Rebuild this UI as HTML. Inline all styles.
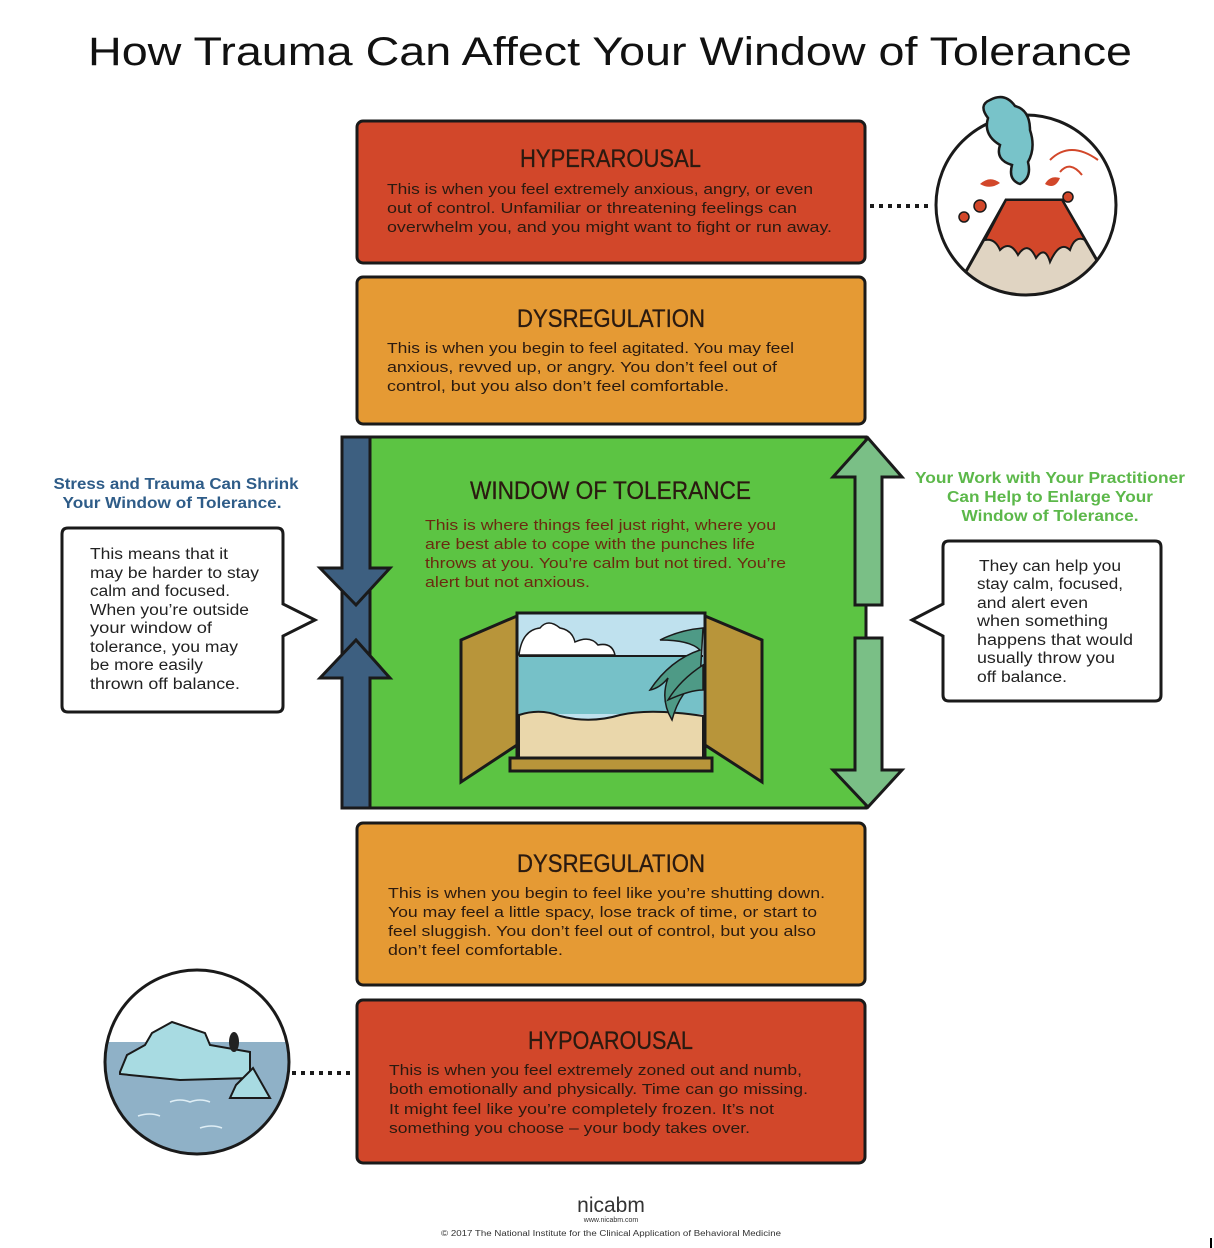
<!DOCTYPE html>
<html><head><meta charset="utf-8"><style>
html,body{margin:0;padding:0;background:#fff;}
svg{display:block;}
text{font-family:"Liberation Sans",sans-serif;}
.h{font-family:"Liberation Sans Narrow","Liberation Sans",sans-serif;font-size:25px;fill:#2a1a10;stroke:#2a1a10;stroke-width:0.3;}
.b{font-size:15px;fill:#2a1a10;}
.w{font-size:15px;fill:#6b2a10;}
.c{font-size:15.5px;fill:#222;}
</style></head><body>
<svg width="1214" height="1248" viewBox="0 0 1214 1248" xmlns="http://www.w3.org/2000/svg">
<text x="88" y="65" font-size="40" textLength="1044" lengthAdjust="spacingAndGlyphs" fill="#111" style="font-family:'Liberation Sans Narrow','Liberation Sans',sans-serif">How Trauma Can Affect Your Window of Tolerance</text>

<rect x="357" y="121" width="508" height="142" rx="6" fill="#d2472a" stroke="#1a1a1a" stroke-width="3"/>
<text class="h" x="520" y="167" textLength="181" lengthAdjust="spacingAndGlyphs">HYPERAROUSAL</text>
<text class="b" x="387" y="194" textLength="426" lengthAdjust="spacingAndGlyphs">This is when you feel extremely anxious, angry, or even</text>
<text class="b" x="387" y="213" textLength="410" lengthAdjust="spacingAndGlyphs">out of control. Unfamiliar or threatening feelings can</text>
<text class="b" x="387" y="232" textLength="445" lengthAdjust="spacingAndGlyphs">overwhelm you, and you might want to fight or run away.</text>

<rect x="357" y="277" width="508" height="147" rx="6" fill="#e59a34" stroke="#1a1a1a" stroke-width="3"/>
<text class="h" x="517" y="327" textLength="188" lengthAdjust="spacingAndGlyphs">DYSREGULATION</text>
<text class="b" x="387" y="353" textLength="407" lengthAdjust="spacingAndGlyphs">This is when you begin to feel agitated. You may feel</text>
<text class="b" x="387" y="372" textLength="390" lengthAdjust="spacingAndGlyphs">anxious, revved up, or angry.  You don’t feel out of</text>
<text class="b" x="387" y="391" textLength="342" lengthAdjust="spacingAndGlyphs">control, but you also don’t feel comfortable.</text>

<rect x="342" y="437" width="524" height="371" fill="#5cc443" stroke="#1a1a1a" stroke-width="3"/>
<rect x="342" y="437" width="28" height="371" fill="#3d5f80" stroke="#1a1a1a" stroke-width="3"/>
<text class="h" x="470" y="499" textLength="281" lengthAdjust="spacingAndGlyphs">WINDOW OF TOLERANCE</text>
<text class="w" x="425" y="530" textLength="351" lengthAdjust="spacingAndGlyphs">This is where things feel just right, where you</text>
<text class="w" x="425" y="549" textLength="330" lengthAdjust="spacingAndGlyphs">are best able to cope with the punches life</text>
<text class="w" x="425" y="568" textLength="361" lengthAdjust="spacingAndGlyphs">throws at you. You’re calm but not tired. You’re</text>
<text class="w" x="425" y="587" textLength="165" lengthAdjust="spacingAndGlyphs">alert but not anxious.</text>

<path d="M342 437 L370 437 L370 568 L390 568 L356 605 L320 568 L342 568 Z" fill="#3d5f80" stroke="#1a1a1a" stroke-width="3"/>
<path d="M342 808 L370 808 L370 678 L390 678 L356 640 L320 678 L342 678 Z" fill="#3d5f80" stroke="#1a1a1a" stroke-width="3"/>
<path d="M855 605 L882 605 L882 477 L902 477 L868 438 L833 477 L855 477 Z" fill="#7abf86" stroke="#1a1a1a" stroke-width="3"/>
<path d="M855 638 L882 638 L882 770 L902 770 L868 807 L833 770 L855 770 Z" fill="#7abf86" stroke="#1a1a1a" stroke-width="3"/>

<rect x="517" y="613" width="188" height="147" fill="#bfe1ee" stroke="#1a1a1a" stroke-width="3"/>
<path d="M519 655 Q522 630 540 628 Q548 618 560 628 Q572 630 575 642 Q590 635 598 645 Q612 642 615 655 Z" fill="#fff" stroke="#1a1a1a" stroke-width="1.5"/>
<rect x="519" y="656" width="184" height="58" fill="#76c1c8"/>
<line x1="519" y1="656" x2="703" y2="656" stroke="#1a1a1a" stroke-width="2"/>
<path d="M519 715 Q540 708 560 716 Q590 724 620 715 Q650 708 703 716 L703 758 L519 758 Z" fill="#ead7ab" stroke="#1a1a1a" stroke-width="2"/>
<path d="M703 628 Q680 630 660 640 Q690 640 700 650 Q670 660 650 690 Q660 688 668 678 Q660 700 672 720 Q680 690 700 680 Z" fill="#4e9a86" stroke="#1a1a1a" stroke-width="1.5"/>
<path d="M703 665 Q680 680 668 700 Q690 690 703 690 Z" fill="#4e9a86" stroke="#1a1a1a" stroke-width="1.5"/>
<path d="M461 640 L517 616 L517 745 L461 782 Z" fill="#b8953a" stroke="#1a1a1a" stroke-width="3"/>
<path d="M705 616 L762 640 L762 782 L705 745 Z" fill="#b8953a" stroke="#1a1a1a" stroke-width="3"/>
<rect x="510" y="758" width="202" height="13" fill="#b8953a" stroke="#1a1a1a" stroke-width="3"/>

<rect x="357" y="823" width="508" height="162" rx="6" fill="#e59a34" stroke="#1a1a1a" stroke-width="3"/>
<text class="h" x="517" y="872" textLength="188" lengthAdjust="spacingAndGlyphs">DYSREGULATION</text>
<text class="b" x="388" y="898" textLength="437" lengthAdjust="spacingAndGlyphs">This is when you begin to feel like you’re shutting down.</text>
<text class="b" x="388" y="917" textLength="429" lengthAdjust="spacingAndGlyphs">You may feel a little spacy, lose track of time, or start to</text>
<text class="b" x="388" y="936" textLength="428" lengthAdjust="spacingAndGlyphs">feel sluggish. You don’t feel out of control, but you also</text>
<text class="b" x="388" y="955" textLength="175" lengthAdjust="spacingAndGlyphs">don’t feel comfortable.</text>

<rect x="357" y="1000" width="508" height="163" rx="6" fill="#d2472a" stroke="#1a1a1a" stroke-width="3"/>
<text class="h" x="528" y="1049" textLength="165" lengthAdjust="spacingAndGlyphs">HYPOAROUSAL</text>
<text class="b" x="389" y="1075" textLength="413" lengthAdjust="spacingAndGlyphs">This is when you feel extremely zoned out and numb,</text>
<text class="b" x="389" y="1094" textLength="419" lengthAdjust="spacingAndGlyphs">both emotionally and physically. Time can go missing.</text>
<text class="b" x="389" y="1114" textLength="385" lengthAdjust="spacingAndGlyphs">It might feel like you’re completely frozen. It’s not</text>
<text class="b" x="389" y="1133" textLength="361" lengthAdjust="spacingAndGlyphs">something you choose – your body takes over.</text>

<line x1="870" y1="206" x2="932" y2="206" stroke="#1a1a1a" stroke-width="4" stroke-dasharray="4 5"/>
<line x1="292" y1="1073" x2="354" y2="1073" stroke="#1a1a1a" stroke-width="4" stroke-dasharray="4 5"/>

<defs>
<clipPath id="cv"><circle cx="1026" cy="205" r="90"/></clipPath>
<clipPath id="ci"><circle cx="197" cy="1062" r="92"/></clipPath>
</defs>
<circle cx="1026" cy="205" r="90" fill="#fff"/>
<g clip-path="url(#cv)">
<path d="M950 300 L1006 200 L1062 200 L1120 300 Z" fill="#e0d4c2" stroke="#1a1a1a" stroke-width="3"/>
<path d="M1006 200 L1062 200 L1085 240 Q1075 235 1070 250 Q1060 240 1050 262 Q1045 245 1036 258 Q1028 240 1018 255 Q1010 240 1000 250 Q995 238 985 240 Z" fill="#d2472a" stroke="#1a1a1a" stroke-width="2"/>
<circle cx="980" cy="206" r="6" fill="#d2472a" stroke="#1a1a1a" stroke-width="1.5"/>
<circle cx="964" cy="217" r="5" fill="#d2472a" stroke="#1a1a1a" stroke-width="1.5"/>
<circle cx="1068" cy="197" r="5" fill="#d2472a" stroke="#1a1a1a" stroke-width="1.5"/>
<path d="M980 184 Q990 175 1000 183 Q990 190 980 184 Z" fill="#d2472a"/>
<path d="M1045 184 Q1050 175 1060 178 Q1055 190 1045 184 Z" fill="#d2472a"/>
<path d="M1050 160 Q1070 140 1098 160" fill="none" stroke="#d2472a" stroke-width="2"/>
<path d="M1060 172 Q1070 160 1082 175" fill="none" stroke="#d2472a" stroke-width="2"/>
</g>
<circle cx="1026" cy="205" r="90" fill="none" stroke="#1a1a1a" stroke-width="3"/>
<path d="M988 118 Q978 105 990 100 Q1005 92 1015 106 Q1030 110 1030 130 Q1036 148 1028 162 Q1032 178 1020 184 Q1008 180 1012 165 Q995 160 1000 145 Q983 135 988 118 Z" fill="#78c3c9" stroke="#1a1a1a" stroke-width="2.5"/>

<circle cx="197" cy="1062" r="92" fill="#fff"/>
<g clip-path="url(#ci)">
<rect x="100" y="1042" width="200" height="120" fill="#8fb1c7"/>
<path d="M120 1072 L127 1055 L145 1045 L152 1033 L172 1022 L205 1033 L210 1045 L250 1052 L250 1078 L180 1080 L120 1074 Z" fill="#a8dbe2" stroke="#1a1a1a" stroke-width="2"/>
<path d="M230 1098 L236 1085 L253 1068 L270 1098 Z" fill="#a8dbe2" stroke="#1a1a1a" stroke-width="2"/>
<ellipse cx="234" cy="1042" rx="5" ry="10" fill="#222"/>
<path d="M170 1102 Q180 1098 190 1102 Q200 1098 210 1102" fill="none" stroke="#dfeef5" stroke-width="1.5"/>
<path d="M138 1116 Q150 1112 160 1116" fill="none" stroke="#dfeef5" stroke-width="1.5"/>
<path d="M200 1128 Q212 1124 222 1128" fill="none" stroke="#dfeef5" stroke-width="1.5"/>
</g>
<circle cx="197" cy="1062" r="92" fill="none" stroke="#1a1a1a" stroke-width="3"/>

<text x="176" y="489" text-anchor="middle" font-size="15.5" font-weight="bold" fill="#2e5c88" textLength="245" lengthAdjust="spacingAndGlyphs">Stress and Trauma Can Shrink</text>
<text x="172" y="508" text-anchor="middle" font-size="15.5" font-weight="bold" fill="#2e5c88" textLength="219" lengthAdjust="spacingAndGlyphs">Your Window of Tolerance.</text>
<path d="M68 528 L277 528 Q283 528 283 534 L283 604 L315 620 L283 636 L283 706 Q283 712 277 712 L68 712 Q62 712 62 706 L62 534 Q62 528 68 528 Z" fill="#fff" stroke="#1a1a1a" stroke-width="3"/>
<text class="c" x="90" y="559" textLength="138" lengthAdjust="spacingAndGlyphs">This means that it</text>
<text class="c" x="90" y="578" textLength="169" lengthAdjust="spacingAndGlyphs">may be harder to stay</text>
<text class="c" x="90" y="596" textLength="140" lengthAdjust="spacingAndGlyphs">calm and focused.</text>
<text class="c" x="90" y="615" textLength="159" lengthAdjust="spacingAndGlyphs">When you’re outside</text>
<text class="c" x="90" y="633" textLength="122" lengthAdjust="spacingAndGlyphs">your window of</text>
<text class="c" x="90" y="652" textLength="148" lengthAdjust="spacingAndGlyphs">tolerance, you may</text>
<text class="c" x="90" y="670" textLength="113" lengthAdjust="spacingAndGlyphs">be more easily</text>
<text class="c" x="90" y="689" textLength="150" lengthAdjust="spacingAndGlyphs">thrown off balance.</text>

<text x="1050" y="483" text-anchor="middle" font-size="15.5" font-weight="bold" fill="#5cb84a" textLength="270" lengthAdjust="spacingAndGlyphs">Your Work with Your Practitioner</text>
<text x="1050" y="502" text-anchor="middle" font-size="15.5" font-weight="bold" fill="#5cb84a" textLength="206" lengthAdjust="spacingAndGlyphs">Can Help to Enlarge Your</text>
<text x="1050" y="521" text-anchor="middle" font-size="15.5" font-weight="bold" fill="#5cb84a" textLength="177" lengthAdjust="spacingAndGlyphs">Window of Tolerance.</text>
<path d="M949 541 L1155 541 Q1161 541 1161 547 L1161 695 Q1161 701 1155 701 L949 701 Q943 701 943 695 L943 636 L912 620 L943 604 L943 547 Q943 541 949 541 Z" fill="#fff" stroke="#1a1a1a" stroke-width="3"/>
<text class="c" x="979" y="571" textLength="142" lengthAdjust="spacingAndGlyphs">They can help you</text>
<text class="c" x="977" y="589" textLength="146" lengthAdjust="spacingAndGlyphs">stay calm, focused,</text>
<text class="c" x="977" y="608" textLength="111" lengthAdjust="spacingAndGlyphs">and alert even</text>
<text class="c" x="977" y="626" textLength="131" lengthAdjust="spacingAndGlyphs">when something</text>
<text class="c" x="977" y="645" textLength="156" lengthAdjust="spacingAndGlyphs">happens that would</text>
<text class="c" x="977" y="663" textLength="138" lengthAdjust="spacingAndGlyphs">usually throw you</text>
<text class="c" x="977" y="682" textLength="90" lengthAdjust="spacingAndGlyphs">off balance.</text>

<text x="611" y="1212" text-anchor="middle" font-size="21" fill="#333">nicabm</text>
<text x="611" y="1222" text-anchor="middle" font-size="7" fill="#333">www.nicabm.com</text>
<text x="611" y="1236" text-anchor="middle" font-size="8" fill="#333" textLength="340" lengthAdjust="spacingAndGlyphs">©  2017  The National Institute for the Clinical Application of Behavioral Medicine</text>
<line x1="1211" y1="1238" x2="1211" y2="1248" stroke="#000" stroke-width="2"/>
</svg>
</body></html>
